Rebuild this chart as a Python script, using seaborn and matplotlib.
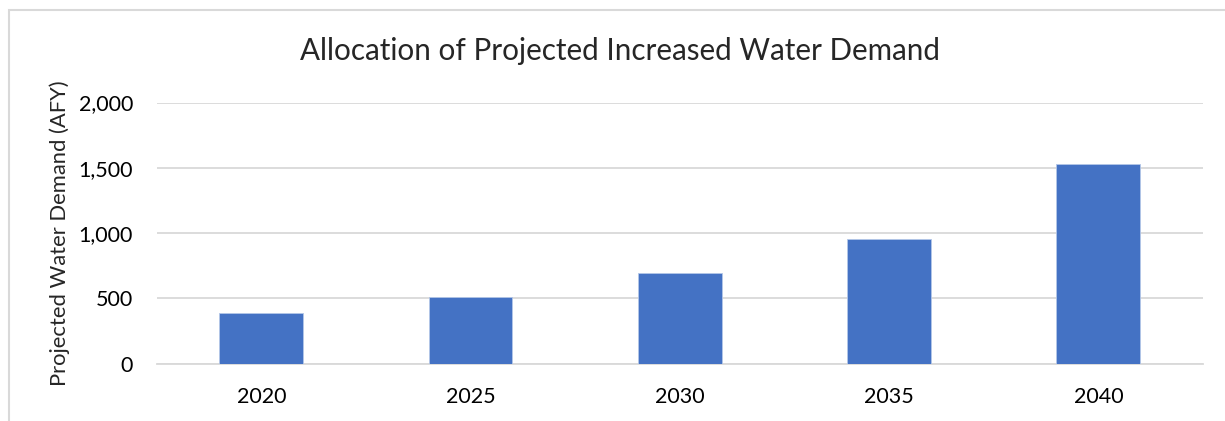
import matplotlib
matplotlib.use("Agg")
import matplotlib.pyplot as plt
import seaborn as sns
import pandas as pd
from matplotlib.patches import Rectangle
from matplotlib.ticker import FuncFormatter

# 데이터
years = ["2020", "2025", "2030", "2035", "2040"]
demand = [386, 511, 692, 957, 1531]
y_ticks = [0, 500, 1000, 1500, 2000]

df = pd.DataFrame({"year": years, "demand": demand})

sns.set_theme(style="white")
plt.rcParams['font.family'] = ['Lato', 'DejaVu Sans']

fig = plt.figure(figsize=(12.25, 4.21), dpi=100)
ax = fig.add_axes([0.1279, 0.1361, 0.8541, 0.6204])

sns.barplot(data=df, x="year", y="demand", color="#4472C4", width=0.40,
            saturation=1, edgecolor="#B4C7E7", linewidth=0.6, ax=ax, zorder=3)

ax.set_ylim(0, 2000)
ax.set_xlim(-0.5, 4.5)
ax.set_yticks(y_ticks)
ax.yaxis.set_major_formatter(FuncFormatter(lambda v, p: f"{int(v):,}"))
ax.grid(axis="y", color="#D9D9D9", linewidth=1.3, zorder=0)
for s in ["top", "right", "left"]:
    ax.spines[s].set_visible(False)
ax.spines["bottom"].set_color("#D9D9D9")
ax.spines["bottom"].set_linewidth(1.3)
ax.tick_params(axis="both", length=0, labelsize=15.5, colors="black")
ax.tick_params(axis="y", pad=17)
ax.tick_params(axis="x", pad=17)
ax.set_xlabel("")
ax.set_ylabel("Projected Water Demand (AFY)", fontsize=15.8, labelpad=6)

fig.text(0.506, 0.878, "Allocation of Projected Increased Water Demand",
         ha="center", va="center", fontsize=21.3)

# 바깥 테두리 (위쪽/왼쪽만 보임)
fig.patches.append(Rectangle((9 / 1225, -0.1), 1.2, 1.1 - 10 / 421,
                             transform=fig.transFigure, fill=False,
                             edgecolor="#D9D9D9", linewidth=1.5))

fig.savefig("out.png", dpi=100)
